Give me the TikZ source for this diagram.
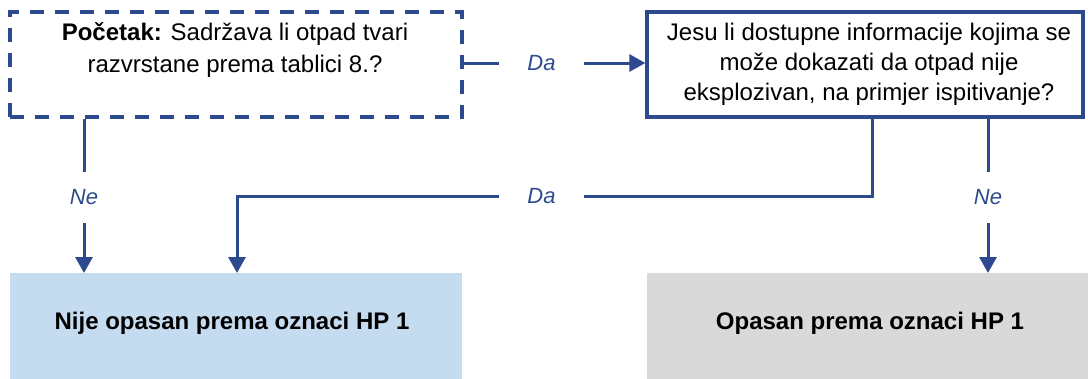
\documentclass[tikz,border=0pt]{standalone}
\usepackage{fontspec}
\setmainfont{Liberation Sans}
\usetikzlibrary{arrows.meta}
\definecolor{lineblue}{HTML}{2E4A8E}
\definecolor{fillblue}{HTML}{C5DBF0}
\definecolor{fillgray}{HTML}{D9D9D9}
\begin{document}
\begin{tikzpicture}[x=1pt,y=-1pt,
  conn/.style={draw=lineblue,line width=3pt},
  arr/.style={conn,-{Triangle[length=16pt,width=17pt]}},
  dashbox/.style={draw=lineblue,line width=3.3pt,dash pattern=on 14pt off 11pt,minimum width=452pt,minimum height=105pt,inner sep=0pt},
  solidbox/.style={draw=lineblue,line width=3.3pt,minimum width=436pt,minimum height=105pt,inner sep=0pt},
  boxtext/.style={align=center,font=\fontsize{24}{30}\selectfont,inner sep=0pt},
  endbox/.style={minimum height=110pt,inner sep=0pt,font=\fontsize{24}{29}\selectfont\bfseries},
  hlab/.style={text=lineblue,font=\fontsize{22}{26}\selectfont\itshape,inner sep=0pt,minimum width=85pt,minimum height=20pt},
  vlab/.style={text=lineblue,font=\fontsize{22}{26}\selectfont\itshape,inner sep=0pt,minimum height=51pt,minimum width=30pt}]
\useasboundingbox (0,0) rectangle (1088,378);
% boxes
\node[dashbox] (start) at (236,64.5) {};
\node[boxtext,font=\fontsize{24}{32}\selectfont] (starttext) at (235,50) {\textbf{Početak:} Sadržava li otpad tvari\\razvrstane prema tablici 8.?};
\node[solidbox] (q2) at (865,64.5) {};
\node[boxtext] (q2text) at (869,64) {Jesu li dostupne informacije kojima se\\može dokazati da otpad nije\\eksplozivan, na primjer ispitivanje?};
\node[endbox,fill=fillblue,minimum width=452pt,anchor=north west] (nije) at (10,273) {};
\node[endbox] (nijetext) at (232,323) {Nije opasan prema oznaci HP 1};
\node[endbox,fill=fillgray,minimum width=441pt,anchor=north west] (opasan) at (647,273) {};
\node[endbox] (opasantext) at (870,323) {Opasan prema oznaci HP 1};
% labels
\node[hlab] (da1) at (541.5,63) {Da};
\node[hlab] (da2) at (541.5,196) {Da};
\node[vlab] (ne1) at (84,197.5) {Ne};
\node[vlab] (ne2) at (988,197.5) {Ne};
\coordinate (bendR) at (872,196);
\coordinate (bendL) at (237,196);
% connectors
\draw[conn] (start.east |- da1) -- (da1.west);
\draw[arr] (da1.east) -- (q2.west |- da1);
\draw[conn] (start.south -| ne1) -- (ne1.north);
\draw[arr] (ne1.south) -- (nije.north -| ne1);
\draw[conn] (q2.south -| bendR) -- (bendR) -- (da2.east);
\draw[arr] (da2.west) -- (bendL) -- (nije.north -| bendL);
\draw[conn] (q2.south -| ne2) -- (ne2.north);
\draw[arr] (ne2.south) -- (opasan.north -| ne2);
\end{tikzpicture}
\end{document}
